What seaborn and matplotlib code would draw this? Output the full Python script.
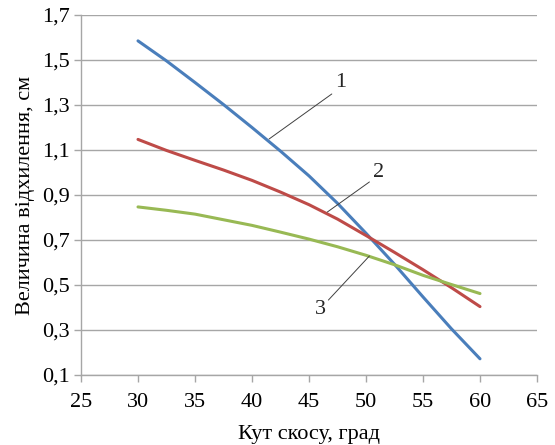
import pandas as pd
import seaborn as sns
import matplotlib
matplotlib.use("Agg")
import matplotlib.pyplot as plt

# Values
angles = [30, 32.5, 35, 37.5, 40, 42.5, 45, 47.5, 50, 52.5, 55, 57.5, 60]
curve_1 = [1.585, 1.496, 1.40, 1.302, 1.20, 1.095, 0.985, 0.863, 0.73,
           0.592, 0.447, 0.305, 0.172]
curve_2 = [1.147, 1.098, 1.054, 1.011, 0.965, 0.913, 0.857, 0.793, 0.72,
           0.645, 0.568, 0.488, 0.404]
curve_3 = [0.847, 0.832, 0.815, 0.79, 0.765, 0.735, 0.704, 0.67, 0.632,
           0.59, 0.543, 0.502, 0.462]
curve_names = ["1", "2", "3"]
curve_colors = ["#4A7EBB", "#BE4B48", "#98B954"]

x_ticks = [25, 30, 35, 40, 45, 50, 55, 60, 65]
y_ticks = [0.1, 0.3, 0.5, 0.7, 0.9, 1.1, 1.3, 1.5, 1.7]
y_tick_labels = ["0,1", "0,3", "0,5", "0,7", "0,9", "1,1", "1,3", "1,5", "1,7"]

# label text position, leader start (on the curve), leader end (near label)
label_pos = [(47.8, 1.40), (51.1, 1.00), (46.0, 0.39)]
leader_from = [(41.5, 1.149), (46.6, 0.824), (50.3, 0.629)]
leader_to = [(47.0, 1.349), (50.3, 0.958), (46.7, 0.433)]

df = pd.DataFrame({
    "angle": angles * 3,
    "value": curve_1 + curve_2 + curve_3,
    "curve": [n for n in curve_names for _ in angles],
})

sns.set_style("white")
plt.rcParams["font.family"] = ["Liberation Serif", "DejaVu Serif"]

fig = plt.figure(figsize=(5.55, 4.45), dpi=100)
ax = fig.add_axes([81 / 555, 70 / 445, 456 / 555, 360 / 445])

sns.lineplot(data=df, x="angle", y="value", hue="curve", palette=curve_colors,
             linewidth=2.2, legend=False, ax=ax, zorder=3)

ax.set_xlim(25, 65)
ax.set_ylim(0.1, 1.7)
ax.set_xticks(x_ticks)
ax.set_yticks(y_ticks)
ax.set_yticklabels(y_tick_labels)
ax.tick_params(axis="both", labelsize=16, labelcolor="black", color="#a6a6a6",
               length=5, width=1, direction="out", pad=3)
ax.tick_params(axis="x", pad=8)
ax.xaxis.set_ticks_position("bottom")
ax.yaxis.set_ticks_position("left")

ax.yaxis.grid(True, color="#a6a6a6", linewidth=1)
ax.xaxis.grid(False)
for side in ["top", "right"]:
    ax.spines[side].set_visible(False)
for side in ["left", "bottom"]:
    ax.spines[side].set_color("#a6a6a6")
    ax.spines[side].set_linewidth(1)

ax.set_xlabel("Кут скосу, град", fontsize=16, color="black", labelpad=9)
ax.set_ylabel("Величина відхилення, см", fontsize=16, color="black", labelpad=5)

for name, pos, p0, p1 in zip(curve_names, label_pos, leader_from, leader_to):
    ax.plot([p0[0], p1[0]], [p0[1], p1[1]], color="#404040", linewidth=0.7, zorder=4)
    ax.text(pos[0], pos[1], name, fontsize=16, ha="center", va="center")

fig.savefig("out.png", dpi=100)
